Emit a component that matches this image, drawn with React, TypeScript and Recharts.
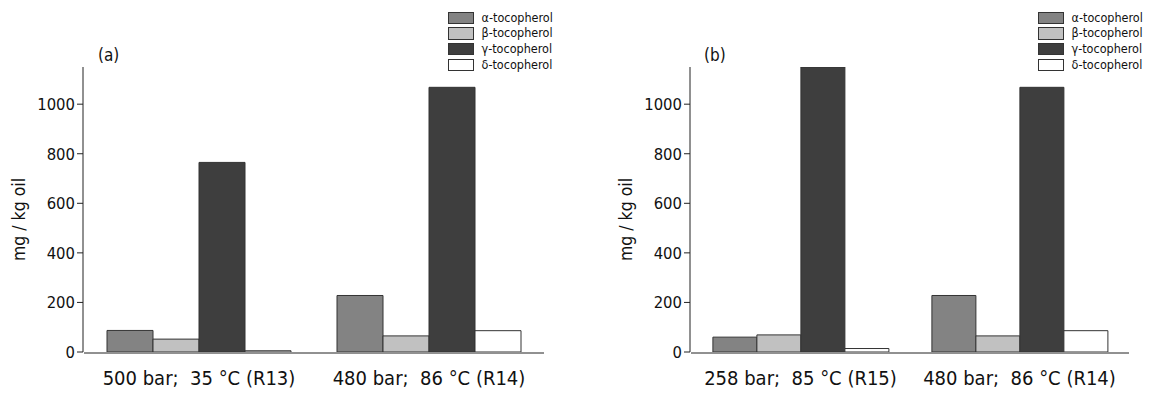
import React from 'react';
import { BarChart, Bar, XAxis, YAxis, Legend } from 'recharts';

const FONT = "'DejaVu Sans Condensed', 'DejaVu Sans', sans-serif";

const seriesKeys = ['alpha', 'beta', 'gamma', 'delta'];
const seriesNames = ['α-tocopherol', 'β-tocopherol', 'γ-tocopherol', 'δ-tocopherol'];
const seriesColors = ['#838383', '#c1c1c1', '#3e3e3e', '#ffffff'];

const categoriesA = ['500 bar;\u00A0 35 °C (R13)', '480 bar;\u00A0 86 °C (R14)'];
const alphaA = [87, 228];
const betaA = [52, 65];
const gammaA = [765, 1068];
const deltaA = [5, 86];

const categoriesB = ['258 bar;\u00A0 85 °C (R15)', '480 bar;\u00A0 86 °C (R14)'];
const alphaB = [60, 228];
const betaB = [69, 65];
const gammaB = [1150, 1068];
const deltaB = [14, 86];

const yMajorTicks = [0, 200, 400, 600, 800, 1000];
const yMinorTicks = [100, 300, 500, 700, 900, 1100];
const yDomain: [number, number] = [0, 1150];
const boundaryTicks = [0, 1, 2];

const build = (cats: string[], a: number[], b: number[], g: number[], d: number[]) =>
  cats.map((c, i) => ({ cat: c, alpha: a[i], beta: b[i], gamma: g[i], delta: d[i] }));

const dataA = build(categoriesA, alphaA, betaA, gammaA, deltaA);
const dataB = build(categoriesB, alphaB, betaB, gammaB, deltaB);

const LegendContent = (props: any) => {
  const payload = props.payload || [];
  return (
    <div style={{ fontFamily: FONT, fontSize: 12.5, whiteSpace: 'nowrap' }}>
      {payload.map((p: any, i: number) => (
        <div key={i} style={{ display: 'flex', alignItems: 'center', height: 15.7 }}>
          <span
            style={{
              display: 'inline-block',
              width: 26,
              height: 12.5,
              boxSizing: 'border-box',
              border: '1px solid #333',
              background: p.color,
            }}
          />
          <span style={{ marginLeft: 7.5, lineHeight: 1, color: '#111' }}>{p.value}</span>
        </div>
      ))}
    </div>
  );
};

const YLabel = (props: any) => {
  const vb = props.viewBox || { x: 0, y: 0, width: 0, height: 0 };
  const x = vb.x + vb.width - 64;
  const y = vb.y + vb.height / 2 + 10;
  return (
    <text
      x={x}
      y={y}
      transform={`rotate(-90, ${x}, ${y})`}
      textAnchor="middle"
      dominantBaseline="central"
      fontFamily={FONT}
      fontSize={17.5}
      fill="#111"
    >
      mg / kg oil
    </text>
  );
};

function Panel({ data, width, axisWidth, right }: { data: any[]; width: number; axisWidth: number; right: number }) {
  return (
    <BarChart
      width={width}
      height={396}
      data={data}
      margin={{ top: 67, right, bottom: 42, left: 0 }}
      barCategoryGap="10%"
      barGap={0}
    >
      <XAxis
        xAxisId="cat"
        dataKey="cat"
        height={1}
        axisLine={false}
        tickLine={false}
        tickSize={0}
        tickMargin={19}
        interval={0}
        tick={{ fill: '#111', fontSize: 20, fontFamily: FONT }}
      />
      <XAxis
        xAxisId="t"
        type="number"
        domain={[0, 2]}
        ticks={boundaryTicks}
        height={1}
        tick={false}
        tickSize={4}
        stroke="#222"
        allowDataOverflow
      />
      <YAxis
        yAxisId="y"
        width={axisWidth - 1}
        domain={yDomain}
        ticks={yMajorTicks}
        interval={0}
        tickSize={6}
        tickMargin={2}
        stroke="#222"
        allowDataOverflow
        tick={{ fill: '#111', fontSize: 16.5, fontFamily: FONT }}
        label={{ content: YLabel }}
      />
      <YAxis
        yAxisId="m"
        width={1}
        domain={yDomain}
        ticks={yMinorTicks}
        interval={0}
        tickSize={3}
        tick={false}
        axisLine={false}
        stroke="#222"
        allowDataOverflow
      />
      <Legend
        layout="vertical"
        align="center"
        verticalAlign="middle"
        content={LegendContent}
        wrapperStyle={{ left: 448, top: 10, width: 'auto', height: 'auto' }}
      />
      {seriesKeys.map((k, i) => (
        <Bar
          key={k}
          xAxisId="cat"
          yAxisId="y"
          dataKey={k}
          name={seriesNames[i]}
          fill={seriesColors[i]}
          stroke="#333"
          strokeWidth={1}
          isAnimationActive={false}
        />
      ))}
    </BarChart>
  );
}

export default function App() {
  return (
    <div style={{ position: 'absolute', left: 0, top: 0, width: 1175, height: 396, background: '#fff' }}>
      <div style={{ position: 'absolute', left: 0, top: 0 }}>
        <Panel data={dataA} width={560} axisWidth={84} right={16} />
      </div>
      <div style={{ position: 'absolute', left: 590, top: 0 }}>
        <Panel data={dataB} width={585} axisWidth={101} right={46} />
      </div>
      <div style={{ position: 'absolute', left: 98, top: 47, fontFamily: FONT, fontSize: 17, lineHeight: '17px', color: '#111' }}>
        (a)
      </div>
      <div style={{ position: 'absolute', left: 704, top: 47, fontFamily: FONT, fontSize: 17, lineHeight: '17px', color: '#111' }}>
        (b)
      </div>
    </div>
  );
}
